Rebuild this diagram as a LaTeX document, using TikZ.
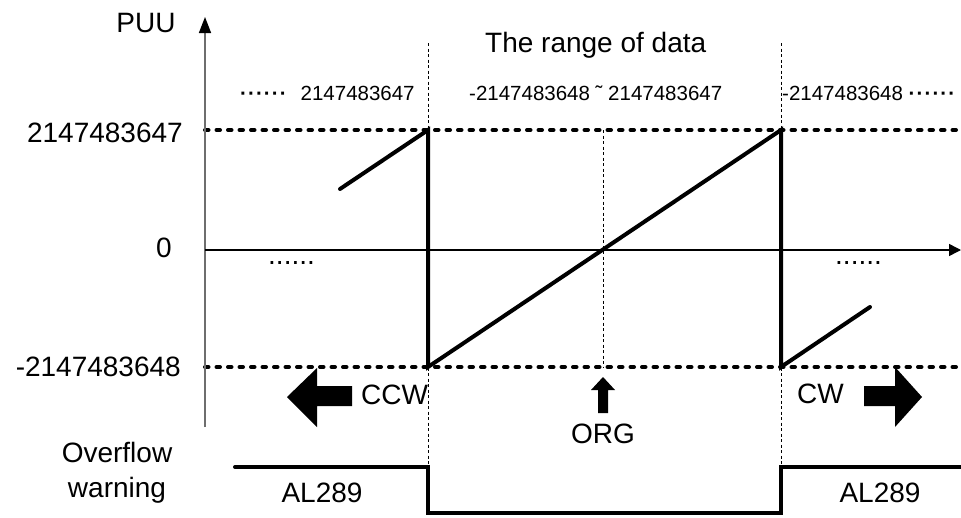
\documentclass[tikz,border=0pt]{standalone}
\usepackage{fontspec}
\setmainfont{Liberation Sans}
\usetikzlibrary{arrows.meta, positioning, calc}
\definecolor{axisgray}{RGB}{110, 110, 110}
\tikzset{
  biglabel/.style={font=\fontsize{28}{32}\selectfont, inner sep=0pt},
  smalllabel/.style={font=\fontsize{20.5}{24}\selectfont, inner sep=0pt},
  sawline/.style={line width=4pt, line cap=round},
  levelline/.style={line width=4pt, line cap=round, dash pattern=on 3.5pt off 8pt},
  guideline/.style={line width=1pt, dash pattern=on 3pt off 2.5pt},
  blockarrow/.style={fill=black, draw=none},
}
\newcommand{\middots}{\textbf{·\kern1.1pt·\kern1.1pt·\kern1.1pt·\kern1.1pt·\kern1.1pt·}}

\begin{document}
\begin{tikzpicture}[x=1pt, y=-1pt]
  \path[use as bounding box, fill=white] (0,0) rectangle (961,517);

  \coordinate (ybot) at (205,427);
  \coordinate (ytop) at (205,17);
  \coordinate (xorg) at (205,250);
  \coordinate (xend) at (961,250);
  \coordinate (maxL) at (205,130);
  \coordinate (maxR) at (961,130);
  \coordinate (minL) at (205,367);
  \coordinate (minR) at (961,367);

  % level lines and guides
  \draw[levelline] (maxL) -- (maxR);
  \draw[levelline] (minL) -- (minR);
  \draw[guideline] (428,43) coordinate (gl1) -- (428,467) coordinate (gl2);
  \draw[guideline] (781,43) coordinate (gr1) -- (781,467) coordinate (gr2);
  \draw[guideline] (603,130) coordinate (gc1) -- (603,367) coordinate (gc2);

  % axes
  \draw[axisgray, line width=1.5pt, -{Triangle[length=16pt, width=12pt, color=black]}] (ybot) -- (ytop);
  \draw[line width=1.5pt, -{Triangle[length=12pt, width=12pt]}] (xorg) -- (xend);

  % sawtooth
  \coordinate (s1) at (340,189);
  \coordinate (s2) at (428,130);
  \coordinate (s3) at (428,367);
  \coordinate (s4) at (781,130);
  \coordinate (s5) at (781,367);
  \coordinate (s6) at (870,307);
  \draw[sawline] (s1) -- (s2) -- (s3) -- (s4) -- (s5) -- (s6);

  % overflow warning
  \coordinate (w1) at (235,467);
  \coordinate (w2) at (428,467);
  \coordinate (w3) at (428,513);
  \coordinate (w4) at (781,513);
  \coordinate (w5) at (781,467);
  \coordinate (w6) at (961,467);
  \draw[sawline] (w1) -- (w2) -- (w3) -- (w4) -- (w5) -- (w6);

  % block arrows
  \fill[blockarrow] (287,397) -- (317,368) -- (317,386) -- (352,386) -- (352,406) -- (317,406) -- (317,427) -- cycle;
  \fill[blockarrow] (922,397) -- (895,367) -- (895,386) -- (864,386) -- (864,406) -- (895,406) -- (895,427) -- cycle;
  \fill[blockarrow] (603,377) -- (615,390) -- (608,390) -- (608,413) -- (598,413) -- (598,390) -- (591,390) -- cycle;

  % labels
  \node[biglabel, anchor=base] (puu) at (146,32) {PUU};
  \node[biglabel, anchor=base east] (vmax) at (183,142) {2147483647};
  \node[biglabel, anchor=base] (zero) at (164,257) {0};
  \node[biglabel, anchor=base east] (vmin) at (181,376) {-2147483648};
  \node[biglabel, anchor=base west] (title) at (485,52) {The range of data};
  \node[smalllabel, anchor=base west] (rangeL) at (240,100) {\middots\hspace{14pt}2147483647};
  \node[smalllabel, anchor=base west] (rangeC) at (469,100) {-2147483648 ˜ 2147483647};
  \node[smalllabel, anchor=base west] (rangeR) at (782,100) {-2147483648 \middots};
  \node[biglabel, anchor=base west] (dotsL) at (268,264) {......};
  \node[biglabel, anchor=base west] (dotsR) at (835,264) {......};
  \node[biglabel, anchor=base west] (ccw) at (361,404) {CCW};
  \node[biglabel, anchor=base west] (cw) at (797,403) {CW};
  \node[biglabel, anchor=base] (org) at (603,443) {ORG};
  \node[biglabel, anchor=base] (alL) at (322,502) {AL289};
  \node[biglabel, anchor=base] (alR) at (880,502) {AL289};
  \node[biglabel, anchor=base] (ovf) at (117,462) {Overflow};
  \node[biglabel, anchor=base] (warn) at (117,497) {warning};
\end{tikzpicture}
\end{document}
